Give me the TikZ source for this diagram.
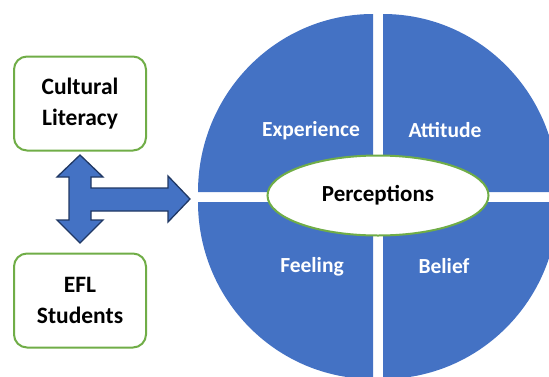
\documentclass[tikz,border=0pt]{standalone}
\usepackage{fontspec}
\setmainfont{Carlito}
\usetikzlibrary{shapes.geometric}
\definecolor{qblue}{HTML}{4472C4}
\definecolor{qgreen}{HTML}{70AD47}
\definecolor{qnavy}{HTML}{203864}
\tikzset{
  quad/.style={fill=qblue, draw=none},
  qlabel/.style={text=white, font=\fontsize{21.5}{25}\selectfont\bfseries, inner sep=0pt},
  sidebox/.style={draw=qgreen, line width=2pt, rounded corners=13pt, fill=white,
    minimum width=132pt, minimum height=94pt, align=center,
    font=\fontsize{23.5}{31}\selectfont\bfseries, inner sep=0pt},
  blockarrow/.style={fill=qblue, draw=qnavy, line width=1.3pt, line join=miter},
  centerell/.style={ellipse, draw=qgreen, line width=2pt, fill=white,
    minimum width=221pt, minimum height=80pt, inner sep=0pt,
    font=\fontsize{23}{27}\selectfont\bfseries}
}
\begin{document}
\begin{tikzpicture}[x=1pt,y=-1pt]
\useasboundingbox (0,0) rectangle (549,376);
% quadrants
\fill[quad] (373,192) -- (198,192) arc[start angle=180, end angle=270, x radius=175, y radius=178] -- cycle;
\fill[quad] (383,192) -- (383,14) arc[start angle=270, end angle=360, x radius=175, y radius=178] -- cycle;
\fill[quad] (373,202) -- (198,202) arc[start angle=180, end angle=90, x radius=175, y radius=177] -- cycle;
\fill[quad] (383,202) -- (383,379) arc[start angle=90, end angle=0, x radius=175, y radius=177] -- cycle;
% labels
\node[qlabel] (exp) at (311,130.5) {Experience};
\node[qlabel] (att) at (445,130.5) {Attitude};
\node[qlabel] (fee) at (312,266.5) {Feeling};
\node[qlabel] (bel) at (444,266.5) {Belief};
% center ellipse
\node[centerell] (perc) at (378,195.5) {Perceptions};
% side boxes
\node[sidebox] (cult) at (80,103.5) {Cultural\\Literacy};
\node[sidebox] (efl) at (80,300.5) {EFL\\Students};
% block arrow
\draw[blockarrow] (80,155) -- (103,177) -- (91,177) -- (91,188) -- (168,188) -- (168,176)
  -- (190,199) -- (168,222) -- (168,211) -- (91,211) -- (91,220) -- (103,220)
  -- (80,243) -- (57,220) -- (69,220) -- (69,177) -- (57,177) -- cycle;
\end{tikzpicture}
\end{document}
